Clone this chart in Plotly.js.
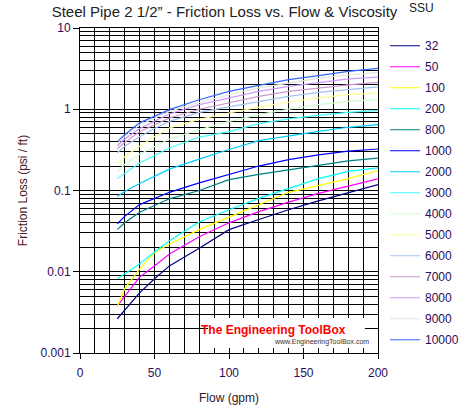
<!DOCTYPE html>
<html>
<head>
<meta charset="utf-8">
<script src="https://cdn.plot.ly/plotly-3.0.1.min.js"></script>
<style>html,body{margin:0;padding:0;background:#fff;}#chart{width:470px;height:420px;}</style>
</head>
<body>
<div id="chart"></div>
<script>
// Flow (gpm)
const flow = [25, 30, 40, 50, 60, 80, 100, 120, 140, 160, 180, 200];

// Friction loss (psi / ft) per viscosity (SSU)
const ssuLabels = ["32","50","100","200","800","1000","2000","3000","4000","5000","6000","7000","8000","9000","10000"];
const ssu32    = [0.00264, 0.0034, 0.0055, 0.0082, 0.0118, 0.0195, 0.033, 0.044, 0.058, 0.0745, 0.094, 0.118];
const ssu50    = [0.0038, 0.0050, 0.0086, 0.0118, 0.0165, 0.027, 0.040, 0.055, 0.072, 0.092, 0.113, 0.139];
const ssu100   = [0.0037, 0.0062, 0.0108, 0.0172, 0.022, 0.033, 0.047, 0.067, 0.095, 0.115, 0.140, 0.175];
const ssu200   = [0.0082, 0.0095, 0.0125, 0.0175, 0.024, 0.041, 0.058, 0.080, 0.107, 0.140, 0.172, 0.19];
const ssu800   = [0.033, 0.040, 0.054, 0.066, 0.079, 0.100, 0.136, 0.158, 0.18, 0.205, 0.232, 0.251];
const ssu1000  = [0.039, 0.048, 0.067, 0.080, 0.095, 0.124, 0.158, 0.200, 0.240, 0.275, 0.305, 0.324];
const ssu2000  = [0.0846, 0.097, 0.122, 0.151, 0.183, 0.243, 0.32, 0.41, 0.47, 0.535, 0.60, 0.645];
const ssu3000  = [0.140, 0.162, 0.218, 0.27, 0.333, 0.455, 0.53, 0.664, 0.76, 0.84, 0.915, 0.968];
const ssu4000  = [0.170, 0.21, 0.28, 0.35, 0.43, 0.56, 0.71, 0.857, 1.0, 1.14, 1.25, 1.31];
const ssu5000  = [0.214, 0.26, 0.35, 0.46, 0.588, 0.75, 0.90, 1.06, 1.22, 1.38, 1.51, 1.58];
const ssu6000  = [0.292, 0.35, 0.46, 0.58, 0.71, 0.915, 1.07, 1.25, 1.44, 1.61, 1.74, 1.88];
const ssu7000  = [0.327, 0.39, 0.53, 0.65, 0.78, 1.0, 1.21, 1.44, 1.66, 1.83, 2.0, 2.14];
const ssu8000  = [0.356, 0.43, 0.58, 0.72, 0.873, 1.14, 1.37, 1.66, 1.91, 2.14, 2.36, 2.49];
const ssu9000  = [0.377, 0.46, 0.64, 0.78, 0.94, 1.21, 1.51, 1.83, 2.1, 2.4, 2.66, 2.84];
const ssu10000 = [0.40, 0.485, 0.68, 0.82, 0.99, 1.31, 1.66, 1.97, 2.31, 2.59, 2.93, 3.18];

const seriesValues = [ssu32, ssu50, ssu100, ssu200, ssu800, ssu1000, ssu2000, ssu3000,
                      ssu4000, ssu5000, ssu6000, ssu7000, ssu8000, ssu9000, ssu10000];
const colors = ["#000080","#ff00ff","#ffff00","#00ffff","#008080","#0000ff","#00ccff","#40ffff",
                "#ccffcc","#ffff99","#a3c2f0","#cc99cc","#cc99ff","#e3e3e3","#3366ff"];

const traces = seriesValues.map((vals, i) => ({
  type: "scatter",
  mode: "lines",
  x: flow,
  y: vals,
  name: ssuLabels[i],
  legendgroup: "g" + i,
  line: {color: colors[i], width: 1.2},
  hoverinfo: "skip"
}));

const textColor = "#2e0a5c";
const layout = {
  width: 470,
  height: 420,
  margin: {l: 80, r: 92, t: 28, b: 67, autoexpand: false},
  paper_bgcolor: "#ffffff",
  plot_bgcolor: "#ffffff",
  font: {family: "Liberation Sans, Arial, sans-serif", size: 12, color: textColor},
  title: {
    text: "Steel Pipe 2 1/2\u201d - Friction Loss vs. Flow & Viscosity",
    font: {family: "Liberation Sans, Arial, sans-serif", size: 15, color: "#222222"},
    x: 0.485, xref: "paper", xanchor: "center",
    y: 0.972, yref: "container", yanchor: "middle"
  },
  showlegend: true,
  legend: {
    x: 1.0235, xanchor: "left", y: 0.99, yanchor: "top",
    traceorder: "grouped", tracegroupgap: 2,
    font: {size: 12, color: textColor},
    bgcolor: "rgba(0,0,0,0)", borderwidth: 0
  },
  xaxis: {
    range: [0, 200],
    dtick: 50, tick0: 0,
    showgrid: true, gridcolor: "#000000", gridwidth: 1,
    minor: {dtick: 10, showgrid: true, gridcolor: "#000000", gridwidth: 1, ticks: ""},
    ticks: "outside", ticklen: 5, tickcolor: "#000000",
    ticklabelstandoff: 4,
    showline: true, linecolor: "#000000", mirror: true,
    zeroline: false,
    tickfont: {size: 12, color: textColor},
    title: {text: "Flow (gpm)", font: {size: 12, color: "#2a1a2a"}, standoff: 14}
  },
  yaxis: {
    type: "log",
    range: [-3, 1],
    tickvals: [0.001, 0.01, 0.1, 1, 10],
    ticktext: ["0.001", "0.01", "0.1", "1", "10"],
    showgrid: true, gridcolor: "#000000", gridwidth: 1,
    minor: {dtick: "D1", showgrid: true, gridcolor: "#000000", gridwidth: 1, ticks: ""},
    ticks: "outside", ticklen: 6, tickcolor: "#000000",
    showline: true, linecolor: "#000000", mirror: true,
    zeroline: false,
    tickfont: {size: 12, color: textColor},
    title: {text: "Friction Loss (psi / ft)", font: {size: 12, color: "#4a1820"}, standoff: 10}
  },
  shapes: [
    {type: "rect", xref: "paper", yref: "paper", x0: 0.4295, x1: 0.956, y0: 0.0154, y1: 0.108,
     fillcolor: "#ffffff", line: {width: 0}, layer: "above"}
  ],
  annotations: [
    {text: "SSU", xref: "paper", yref: "paper", x: 1.145, y: 1.06, xanchor: "center", yanchor: "middle",
     showarrow: false, font: {size: 12, color: "#222222"}},
    {text: "<b>The Engineering ToolBox</b>", xref: "paper", yref: "paper", x: 0.648, y: 0.072,
     xanchor: "center", yanchor: "middle", showarrow: false,
     font: {family: "Liberation Sans Narrow, Arial Narrow, sans-serif", size: 12, color: "#ff0000"}},
    {text: "www.EngineeringToolBox.com", xref: "paper", yref: "paper", x: 0.809, y: 0.034,
     xanchor: "center", yanchor: "middle", showarrow: false,
     font: {family: "Liberation Sans, Arial, sans-serif", size: 7, color: "#333333"}}
  ]
};

Plotly.newPlot("chart", traces, layout, {displayModeBar: false, staticPlot: true});
</script>
</body>
</html>
